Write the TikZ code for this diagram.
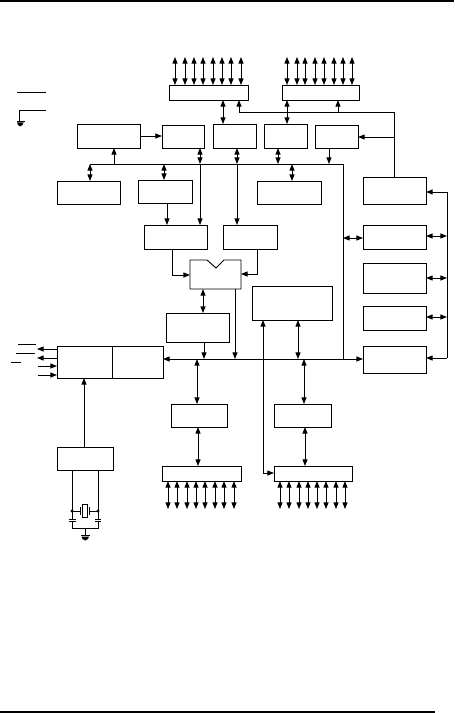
\documentclass[tikz,border=0pt]{standalone}
\usetikzlibrary{arrows.meta,calc}
\tikzset{
  blk/.style 2 args={draw, line width=0.7pt, minimum width=#1*0.75pt, minimum height=#2*0.75pt,
    anchor=north west, inner sep=0pt, outer sep=0pt},
  wire/.style={line width=0.7pt},
  one/.style={wire, -{Triangle[length=5pt,width=3.8pt]}},
  two/.style={wire, {Triangle[length=5pt,width=3.8pt]}-{Triangle[length=5pt,width=3.8pt]}}
}
\begin{document}
\begin{tikzpicture}[x=0.75pt, y=-0.75pt]
  \useasboundingbox (0,0) rectangle (454,713);
  % page rules
  \coordinate (ruletopa) at (0,1);
  \coordinate (ruletopb) at (454,1);
  \coordinate (rulebota) at (0,712);
  \coordinate (rulebotb) at (435,712);
  \draw[line width=1pt] (ruletopa) -- (ruletopb);
  \draw[line width=1.5pt] (rulebota) -- (rulebotb);
  % upper ports
  \node[blk={79}{15}] (latcha) at (169,85) {};
  \node[blk={77}{15}] (latchb) at (282,85) {};
  % first row
  \node[blk={63}{24}] (rom) at (77,124) {};
  \node[blk={42}{23}] (regb) at (162,125) {};
  \node[blk={43}{24}] (regc) at (213,124) {};
  \node[blk={43}{24}] (regd) at (264,124) {};
  \node[blk={43}{23}] (rege) at (315,125) {};
  % second row
  \node[blk={63}{23}] (ram) at (57,181) {};
  \node[blk={54}{23}] (regg) at (138,180) {};
  \node[blk={64}{23}] (regh) at (257,181) {};
  % right column
  \node[blk={63}{27}] (coli) at (363,177) {};
  \node[blk={63}{24}] (colj) at (363,225) {};
  \node[blk={63}{30}] (colk) at (363,263) {};
  \node[blk={63}{24}] (coll) at (363,306) {};
  \node[blk={63}{27}] (colm) at (363,346) {};
  % alu and friends
  \node[blk={63}{24}] (tmpa) at (144,225) {};
  \node[blk={54}{24}] (tmpb) at (223,225) {};
  \node[blk={51}{29}, draw=none] (alu) at (190,260) {};
  \node[blk={63}{29}] (acc) at (166,313) {};
  \node[blk={80}{34}] (regr) at (252,286) {};
  \node[blk={106}{32}] (timing) at (57,346) {};
  \node[blk={56}{23}] (osc) at (57,447) {};
  \node[blk={56}{23}] (regu) at (171,404) {};
  \node[blk={57}{23}] (regv) at (274,404) {};
  \node[blk={79}{15}] (latchc) at (162,466) {};
  \node[blk={78}{15}] (latchd) at (274,466) {};
  % alu outline with its notch
  \draw[wire] (alu.north west) -- (207,260) -- (216,268) -- (224,260) -- (alu.north east)
    -- (alu.south east) -- (alu.south west) -- cycle;
  \draw[wire] (timing.north -| 112,0) -- (timing.south -| 112,0);
  % pins
  \foreach \x in {175,185,194,203,213,222,231,241}{
    \coordinate (pin) at (\x,57);
    \draw[two] (pin) -- (pin |- latcha.north);
  }
  \foreach \x in {287,297,305,315,324,334,343,352}{
    \coordinate (pin) at (\x,57);
    \draw[two] (pin) -- (pin |- latchb.north);
  }
  \foreach \x in {168,177,187,196,205,215,224,234}{
    \coordinate (pin) at (\x,509);
    \draw[two] (pin |- latchc.south) -- (pin);
  }
  \foreach \x in {280,289,299,308,317,326,336,345}{
    \coordinate (pin) at (\x,509);
    \draw[two] (pin |- latchd.south) -- (pin);
  }
  % supply lines
  \coordinate (vcca) at (17,92);
  \coordinate (vccb) at (46,92);
  \coordinate (vssa) at (46,110);
  \coordinate (vssb) at (19,110);
  \coordinate (vssc) at (19,121);
  \draw[wire] (vcca) -- (vccb);
  \draw[wire] (vssa) -- (vssb) -- (vssc);
  \draw[wire] (16.5,121.5) -- (25,121.5);
  \fill (17,122.5) -- (23.5,122.5) -- (22.5,125) -- (20,126.5) -- (18,125) -- cycle;
  % upper bus
  \coordinate (busa) at (90,164);
  \coordinate (busb) at (343,164);
  \coordinate (busc) at (343,359);
  \draw[wire] (busa) -- (busb) -- (busc);
  \draw[two] (ram.north -| busa) -- (busa);
  \draw[one] (busa -| 114,0) -- (rom.south -| 114,0);
  \draw[two] (regb.south -| 200,0) -- (busa -| 200,0);
  \draw[one] (busa -| 200,0) -- (tmpa.north -| 200,0);
  \draw[two] (regg.north -| 164,0) -- (busa -| 164,0);
  \draw[one] (regg.south -| 167,0) -- (tmpa.north -| 167,0);
  \draw[two] (regc.south -| 237,0) -- (busa -| 237,0);
  \draw[one] (busa -| 237,0) -- (tmpb.north -| 237,0);
  \draw[two] (regd.south -| 278,0) -- (busa -| 278,0);
  \draw[one] (rege.south -| 329,0) -- (busa -| 329,0);
  \draw[two] (regh.north -| 292,0) -- (busa -| 292,0);
  \draw[one] (rom.east |- 0,136) -- (regb.west |- 0,136);
  % port links
  \draw[two] (latcha.south -| 223,0) -- (regc.north -| 223,0);
  \draw[two] (latchb.south -| 287,0) -- (regd.north -| 287,0);
  \coordinate (linka) at (239,112);
  \coordinate (linkb) at (394,112);
  \draw[one] (linka) -- (linka |- latcha.south);
  \draw[one] (linka -| 338,0) -- (latchb.south -| 338,0);
  \draw[wire] (linka) -- (linkb) -- (linkb |- coli.north);
  \draw[one] (linkb |- 0,137) -- (rege.east |- 0,137);
  % right side bus
  \coordinate (sidea) at (447,192);
  \coordinate (sideb) at (447,358);
  \draw[wire] (sidea) -- (sideb);
  \draw[one] (sidea) -- (coli.east |- sidea);
  \draw[one] (sideb) -- (colm.east |- sideb);
  \draw[two] (colj.east |- 0,236) -- (sidea |- 0,236);
  \draw[two] (colk.east |- 0,278) -- (sidea |- 0,278);
  \draw[two] (coll.east |- 0,317) -- (sidea |- 0,317);
  \draw[two] (busb |- 0,238) -- (colj.west |- 0,238);
  % alu inputs and outputs
  \draw[one] (tmpa.south -| 172,0) |- (alu.west |- 0,275);
  \draw[one] (tmpb.south -| 257,0) |- (alu.east |- 0,274);
  \draw[two] (alu.south -| 203,0) -- (acc.north -| 203,0);
  \draw[one] (acc.south -| 204,0) -- (busc -| 204,0);
  \draw[one] (alu.south -| 235,0) -- (busc -| 235,0);
  % lower bus
  \draw[one] (busc) -- (timing.east |- busc);
  \draw[one] (busc) -- (colm.west |- busc);
  \draw[two] (regr.south -| 298,0) -- (busc -| 298,0);
  \draw[two] (busc -| 197,0) -- (regu.north -| 197,0);
  \draw[two] (regu.south -| 198,0) -- (latchc.north -| 198,0);
  \draw[two] (busc -| 304,0) -- (regv.north -| 304,0);
  \draw[two] (regv.south -| 305,0) -- (latchd.north -| 305,0);
  \coordinate (lefta) at (263,473);
  \draw[two] (regr.south -| lefta) -- (lefta) -- (latchd.west |- lefta);
  \draw[one] (osc.north -| 84,0) -- (timing.south -| 84,0);
  % control signals
  \draw[one] (timing.west |- 0,349) -- (37,349);
  \draw[one] (timing.west |- 0,358) -- (37,358);
  \draw[one] (38,366) -- (timing.west |- 0,366);
  \draw[one] (38,375) -- (timing.west |- 0,375);
  \draw[wire] (18,344) -- (36,344);
  \draw[wire] (16,353) -- (35,353);
  \draw[wire] (11,362) -- (21,362);
  % crystal
  \coordinate (xtala) at (72,528);
  \coordinate (xtalb) at (98,528);
  \draw[wire] (osc.south -| xtala) -- (72,519);
  \draw[wire] (osc.south -| xtalb) -- (98,519);
  \draw[wire] (68.5,519) -- (75.5,519);
  \draw[wire] (95,519) -- (101,519);
  \draw[wire] (68.5,521.5) -- (75.5,521.5);
  \draw[wire] (95,521.5) -- (101,521.5);
  \draw[wire] (72,521.5) -- (xtala) -- (xtalb) -- (98,521.5);
  \draw[wire] (82,504) rectangle (87,517);
  \draw[wire] (72,511) -- (80.5,511) (80.5,507) -- (80.5,515);
  \draw[wire] (98,511) -- (89.5,511) (89.5,507) -- (89.5,515);
  \fill (72,511) circle (1.6) (98,511) circle (1.6);
  \draw[wire] (85,528) -- (85,535);
  \draw[wire] (81,535.5) -- (89.5,535.5);
  \fill (81.5,536.5) -- (89,536.5) -- (88,539) -- (85.2,540.5) -- (82.5,539) -- cycle;
\end{tikzpicture}
\end{document}
